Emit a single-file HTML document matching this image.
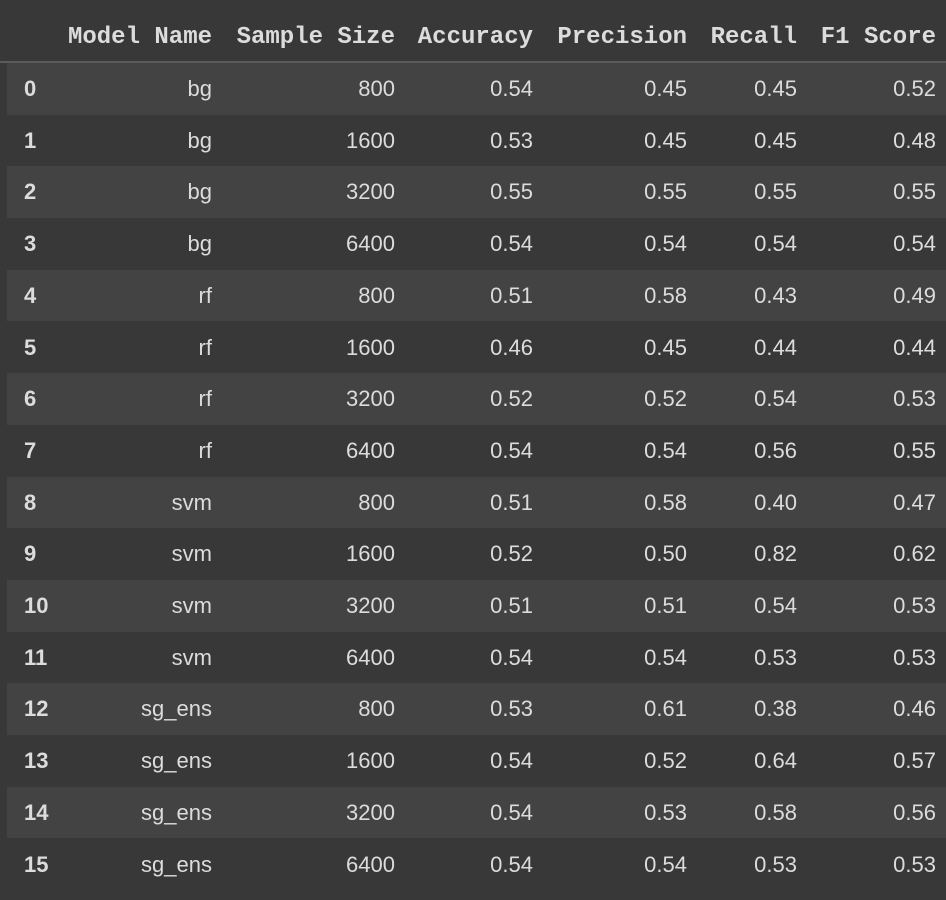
<!DOCTYPE html>
<html><head><meta charset="utf-8"><style>
body{margin:0;background:#383838;width:946px;height:900px;overflow:hidden;font-family:"Liberation Sans",sans-serif;color:#dcdcdc}
.hdr{position:absolute;top:0;left:0;width:946px;height:61px;border-bottom:2px solid #5b5b5b}
.h{position:absolute;top:23px;font-family:"Liberation Mono",monospace;font-weight:bold;font-size:24px;letter-spacing:0px;white-space:nowrap;text-align:right;line-height:30px}
.row{position:absolute;left:7px;width:939px;height:51.7px}
.row.odd{background:#434343}
.c{position:absolute;top:0;line-height:51.7px;font-size:22px;text-align:right;white-space:nowrap}
.idx{left:17px;font-weight:bold;text-align:left}
</style></head><body>
<div class="hdr">
<span class="h" style="right:734px">Model Name</span>
<span class="h" style="right:551px">Sample Size</span>
<span class="h" style="right:413px">Accuracy</span>
<span class="h" style="right:259px">Precision</span>
<span class="h" style="right:149px">Recall</span>
<span class="h" style="right:10px">F1 Score</span>
</div>
<div id="tbl"></div>
<script>
const models=["bg","bg","bg","bg","rf","rf","rf","rf","svm","svm","svm","svm","sg_ens","sg_ens","sg_ens","sg_ens"];
const sizes=[800,1600,3200,6400,800,1600,3200,6400,800,1600,3200,6400,800,1600,3200,6400];
const acc=["0.54","0.53","0.55","0.54","0.51","0.46","0.52","0.54","0.51","0.52","0.51","0.54","0.53","0.54","0.54","0.54"];
const prec=["0.45","0.45","0.55","0.54","0.58","0.45","0.52","0.54","0.58","0.50","0.51","0.54","0.61","0.52","0.53","0.54"];
const rec=["0.45","0.45","0.55","0.54","0.43","0.44","0.54","0.56","0.40","0.82","0.54","0.53","0.38","0.64","0.58","0.53"];
const f1=["0.52","0.48","0.55","0.54","0.49","0.44","0.53","0.55","0.47","0.62","0.53","0.53","0.46","0.57","0.56","0.53"];
const tbl=document.getElementById('tbl');
const rights=[734,551,413,259,149,10];
const names=['model-name','sample-size','accuracy','precision','recall','f1-score'];
for(let i=0;i<models.length;i++){
  const r=document.createElement('div');
  r.className='row'+(i%2===0?' odd':'');
  r.style.top=(63+i*51.7)+'px';
  
  
  const ix=document.createElement('span');
  ix.className='c idx';ix.textContent=i;
  
  
  r.appendChild(ix);
  const vals=[models[i],sizes[i],acc[i],prec[i],rec[i],f1[i]];
  vals.forEach((v,j)=>{
    const c=document.createElement('span');
    c.className='c';c.style.right=rights[j]+'px';c.textContent=v;
    
    
    r.appendChild(c);
  });
  tbl.appendChild(r);
}
</script>
</body></html>
